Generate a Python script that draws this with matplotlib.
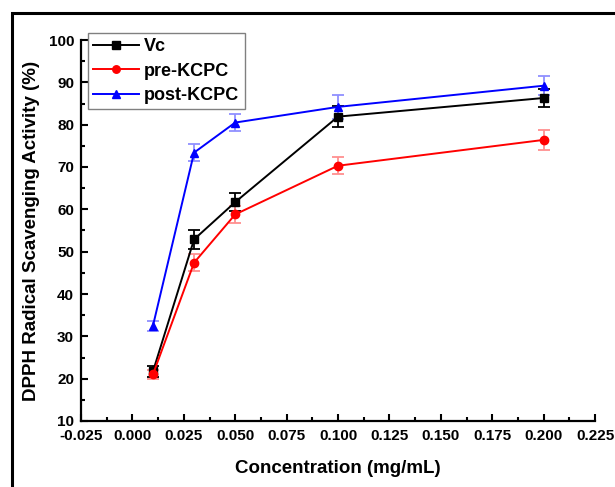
import matplotlib
matplotlib.use("Agg")
import matplotlib.pyplot as plt
from matplotlib.patches import Rectangle
from matplotlib.ticker import MultipleLocator

# Concentration (mg/mL) and DPPH scavenging (%) with SD
conc = [0.01, 0.03, 0.05, 0.10, 0.20]

vc = [21.7, 52.9, 61.7, 81.9, 86.3]
vc_err = [1.4, 2.3, 2.1, 2.4, 2.2]

pre_kcpc = [21.0, 47.4, 58.8, 70.3, 76.4]
pre_err = [1.1, 2.0, 2.0, 2.0, 2.3]

post_kcpc = [32.5, 73.4, 80.5, 84.2, 89.2]
post_err = [1.2, 2.0, 2.1, 2.8, 2.3]

labels = ["Vc", "pre-KCPC", "post-KCPC"]

plt.rcParams.update({
    "font.family": ["Liberation Sans", "DejaVu Sans"],
    "font.weight": "bold",
    "axes.linewidth": 1.6,
})

fig = plt.figure(figsize=(6.15, 4.87), dpi=100)
ax = fig.add_axes([81 / 615, 1 - 421 / 487, (595 - 81) / 615, (421 - 40) / 487])

# outer frame of the figure
fig.patches.append(Rectangle((12 / 615, -0.1), 1.2, 1 - 13 / 487 + 0.1,
                             transform=fig.transFigure, fill=False,
                             edgecolor="black", linewidth=2.2, zorder=10))

series = [
    (vc, vc_err, "black", "s", "black"),
    (pre_kcpc, pre_err, "red", "o", "#ff9090"),
    (post_kcpc, post_err, "blue", "^", "#9090ff"),
]
handles = []
for vals, errs, color, marker, ecolor in series:
    cont = ax.errorbar(conc, vals, yerr=errs, color=color, marker=marker,
                       markersize=6, linewidth=1.4, ecolor=ecolor, elinewidth=1.3,
                       capsize=4, capthick=1.3)
    handles.append(cont.lines[0])

ax.set_xlim(-0.025, 0.225)
ax.set_ylim(10, 100)
ax.xaxis.set_major_locator(MultipleLocator(0.025))
ax.xaxis.set_minor_locator(MultipleLocator(0.0125))
ax.yaxis.set_major_locator(MultipleLocator(10))
ax.yaxis.set_minor_locator(MultipleLocator(5))
ax.set_xticklabels([f"{t:.3f}" for t in ax.get_xticks()])
ax.tick_params(which="both", direction="in", width=1.5, labelsize=11)
ax.tick_params(which="major", length=5)
ax.tick_params(which="minor", length=3)
ax.tick_params(axis="x", pad=6)
ax.tick_params(axis="y", pad=5)
ax.spines["top"].set_visible(False)
ax.spines["right"].set_visible(False)

ax.set_xlabel("Concentration (mg/mL)", fontsize=13.5, fontweight="bold", labelpad=12)
ax.set_ylabel("DPPH Radical Scavenging Activity (%)", fontsize=13.5,
              fontweight="bold", labelpad=6)

leg = ax.legend(handles, labels, loc="upper left",
                bbox_to_anchor=(7 / 514, 1 + 7 / 381), borderaxespad=0,
                fontsize=13, handlelength=2.5, handletextpad=0.3,
                borderpad=0.3, labelspacing=0.4, markerscale=0.9,
                fancybox=False, framealpha=1, edgecolor="#808080")
leg.get_frame().set_linewidth(1.0)

fig.savefig("out.png", dpi=100)
